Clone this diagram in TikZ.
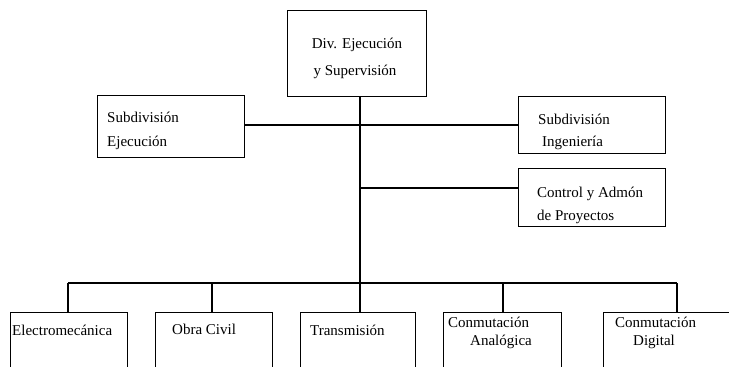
\documentclass[tikz,border=0pt]{standalone}
\usepackage{fontspec}
\setmainfont{Liberation Serif}
\begin{document}
\begin{tikzpicture}[x=1pt,y=-1pt,
  box/.style={draw,line width=1.4pt,rectangle,inner sep=0pt,anchor=north west},
  txt/.style={font=\fontsize{15}{18}\selectfont,inner sep=0pt,anchor=west},
  conn/.style={line width=1.4pt}]
\useasboundingbox (0,0) rectangle (729,367);
\clip (0,0) rectangle (729,367);
% boxes
\node[box,minimum width=139pt,minimum height=86pt] (top) at (287,10) {};
\node[box,minimum width=147pt,minimum height=62pt] (ejec) at (97,95) {};
\node[box,minimum width=147pt,minimum height=57pt] (ing) at (518,96) {};
\node[box,minimum width=147pt,minimum height=58pt] (ctrl) at (518,168) {};
\node[box,minimum width=117pt,minimum height=90pt] (b1) at (10,312) {};
\node[box,minimum width=117pt,minimum height=90pt] (b2) at (155,312) {};
\node[box,minimum width=115pt,minimum height=90pt] (b3) at (300,312) {};
\node[box,minimum width=118pt,minimum height=90pt] (b4) at (443,312) {};
\node[box,minimum width=140pt,minimum height=90pt] (b5) at (603,312) {};
% texts
\node[txt,anchor=center] (t1) at (357,45) {Div. Ejecución};
\node[txt,anchor=center] (t2) at (355,72) {y Supervisión};
\node[txt] (t3) at (107,117) {Subdivisión};
\node[txt] (t4) at (107,143) {Ejecución};
\node[txt] (t5) at (538,119) {Subdivisión};
\node[txt] (t6) at (542,143) {Ingeniería};
\node[txt] (t7) at (537,194) {Control y Admón};
\node[txt] (t8) at (537,217) {de Proyectos};
\node[txt] (t9) at (12,330) {Electromecánica};
\node[txt] (t10) at (172,329) {Obra Civil};
\node[txt] (t11) at (310,330) {Transmisión};
\node[txt] (t12) at (448,322) {Conmutación};
\node[txt] (t13) at (470,342) {Analógica};
\node[txt] (t14) at (615,322) {Conmutación};
\node[txt] (t15) at (633,342) {Digital};
% connector coordinates
\coordinate (m1) at (360,125);
\coordinate (m2) at (360,188);
\coordinate (l1) at (68,283);
\coordinate (l2) at (212,283);
\coordinate (l4) at (503,283);
\coordinate (l5) at (677,283);
% connectors
\draw[conn] (top.south -| m1) -- (b3.north -| m1);
\draw[conn] (ejec.east |- m1) -- (ing.west |- m1);
\draw[conn] (m2) -- (ctrl.west |- m2);
\draw[conn] (l1) -- (l5);
\draw[conn] (l1) -- (b1.north -| l1);
\draw[conn] (l2) -- (b2.north -| l2);
\draw[conn] (l4) -- (b4.north -| l4);
\draw[conn] (l5) -- (b5.north -| l5);
\end{tikzpicture}
\end{document}
